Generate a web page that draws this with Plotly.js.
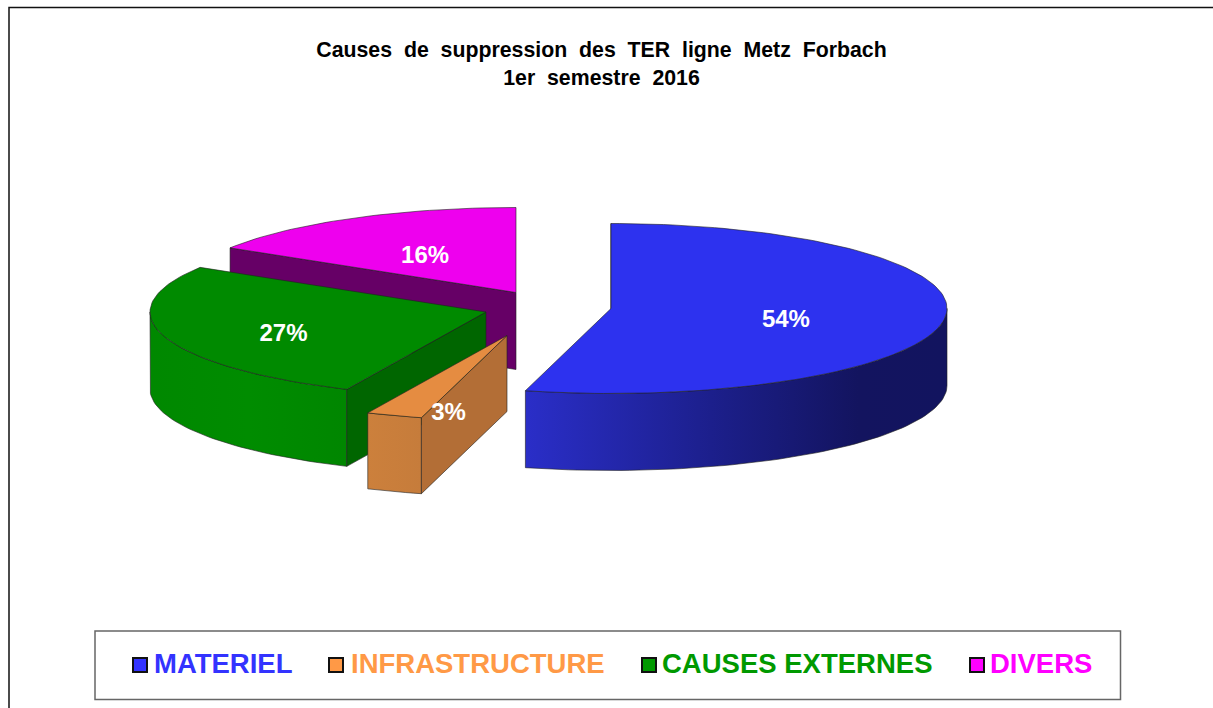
<!DOCTYPE html>
<html>
<head>
<meta charset="utf-8">
<script src="https://cdn.plot.ly/plotly-3.0.1.min.js"></script>
<style>html,body{margin:0;padding:0;background:#fff;overflow:hidden}#chart{width:1213px;height:708px}</style>
</head>
<body>
<div id="chart"></div>
<script>
// Data
var categories = ['MATERIEL', 'INFRASTRUCTURE', 'CAUSES EXTERNES', 'DIVERS'];
var shares = [54.1, 2.7, 27.0, 16.2];
var titleLines = ['Causes\u00a0 de\u00a0 suppression\u00a0 des\u00a0 TER\u00a0 ligne\u00a0 Metz\u00a0 Forbach', '1er\u00a0 semestre\u00a0 2016'];

// Styles
var legendColors = ['#3333ff', '#ff9946', '#009900', '#ff00ff'];
var topColors = ['#2d32ef', '#e58c41', '#008a00', '#ee00ee'];
var sideColors = ['#23269f', '#b36e36', '#006600', '#660066'];
var wallScales = [
  [[0, '#2a2ec8'], [0.44, '#1c1f8c'], [0.79, '#13145f'], [1, '#12145f']],
  [[0, '#cc803c'], [1, '#c67c3b']],
  [[0, '#008800'], [0.5, '#008c00'], [1, '#008600']],
  null
];

// Layout of the exploded 3D pie, in page pixels
var centersX = [611, 507, 486, 516];
var centersY = [308.5, 335.5, 312, 292.5];
var depths = [77, 76, 77, 77];
var rx = 336, ry = 85;
var labelRadius = [0.525, 0.518, 0.63, 0.555];
var labelShift = [7, 37, 7, 6];
var swatchX = [140, 336, 649, 977];
var legendTextX = [154, 351, 662, 990];
var legendY = 665;
var legendTextY = 666;

function rim(i, a, drop) {
  var t = a * Math.PI / 180;
  return [centersX[i] + rx * Math.sin(t), centersY[i] - ry * Math.cos(t) + (drop || 0)];
}
function arc(i, a0, a1, drop) {
  var pts = [], n = Math.max(2, Math.ceil(Math.abs(a1 - a0) / 1.5));
  for (var k = 0; k <= n; k++) pts.push(rim(i, a0 + (a1 - a0) * k / n, drop));
  return pts;
}
function poly(pts, fill, scale, lineW) {
  var tr = {
    type: 'scatter', mode: 'lines', hoverinfo: 'skip',
    x: pts.map(function (p) { return p[0]; }).concat([pts[0][0]]),
    y: pts.map(function (p) { return p[1]; }).concat([pts[0][1]]),
    fill: 'toself', fillcolor: fill,
    line: { color: '#202020', width: lineW === undefined ? 0.6 : lineW }
  };
  if (scale) tr.fillgradient = { type: 'horizontal', colorscale: scale };
  return tr;
}

var angles = [], acc = 0;
shares.forEach(function (s) { angles.push([acc * 3.6, (acc + s) * 3.6]); acc += s; });

function sliceTraces(i) {
  var a0 = angles[i][0], a1 = angles[i][1], out = [], depth = depths[i];
  var apex = [centersX[i], centersY[i]], apexLow = [centersX[i], centersY[i] + depth];
  var w0 = Math.max(a0, 90), w1 = Math.min(a1, 270);
  if (i === 3) {
    out.push(poly([apex, rim(i, a0), rim(i, a0, depth), apexLow], sideColors[i]));
  }
  if (w1 > w0) {
    out.push(poly(arc(i, w0, w1).concat(arc(i, w1, w0, depth)), wallScales[i][0][1], wallScales[i]));
  }
  if (i === 0 || i === 1 || i === 2) {
    out.push(poly([apex, rim(i, a0), rim(i, a0, depth), apexLow], sideColors[i]));
  }
  out.push(poly([apex].concat(arc(i, a0, a1)), topColors[i]));
  return out;
}

var traces = [];
[3, 2, 1, 0].forEach(function (i) { traces = traces.concat(sliceTraces(i)); });

// Percent labels
traces.push({
  type: 'scatter', mode: 'text', hoverinfo: 'skip',
  x: shares.map(function (s, i) { var m = (angles[i][0] + angles[i][1]) / 2; return centersX[i] + rx * labelRadius[i] * Math.sin(m * Math.PI / 180); }),
  y: shares.map(function (s, i) { var m = (angles[i][0] + angles[i][1]) / 2; return centersY[i] - ry * labelRadius[i] * Math.cos(m * Math.PI / 180) + labelShift[i]; }),
  text: shares.map(function (s) { return Math.round(s) + '%'; }),
  textposition: 'middle center',
  textfont: { family: 'Liberation Sans, Arial, sans-serif', size: 24, color: '#ffffff', weight: 'bold' }
});

// Legend entries
categories.forEach(function (c, i) {
  traces.push({
    type: 'scatter', mode: 'markers', hoverinfo: 'skip',
    x: [swatchX[i]], y: [legendY],
    marker: { symbol: 'square', size: 14, color: legendColors[i], line: { color: '#111111', width: 2 } }
  });
  traces.push({
    type: 'scatter', mode: 'text', hoverinfo: 'skip',
    x: [legendTextX[i]], y: [legendTextY], text: [c], textposition: 'middle right',
    textfont: { family: 'Liberation Sans, Arial, sans-serif', size: 27.5, color: legendColors[i], weight: 'bold' }
  });
});

var layout = {
  width: 1213, height: 708,
  margin: { l: 0, r: 0, t: 0, b: 0 },
  paper_bgcolor: '#ffffff', plot_bgcolor: '#ffffff',
  showlegend: false,
  xaxis: { range: [0, 1213], visible: false, fixedrange: true },
  yaxis: { range: [708, 0], visible: false, fixedrange: true },
  title: {
    text: titleLines.join('<br>'),
    x: 601.5 / 1213, xanchor: 'center', xref: 'paper',
    y: 1 - 57 / 708, yanchor: 'top', yref: 'container',
    font: { family: 'Liberation Sans, Arial, sans-serif', size: 21.3, color: '#000000', weight: 'bold' }
  },
  shapes: [
    { type: 'path', xref: 'x', yref: 'y', path: 'M 9 708 L 9 7.5 L 1213 7.5', line: { color: '#111111', width: 1.5 } },
    { type: 'rect', xref: 'x', yref: 'y', x0: 95, x1: 1120.5, y0: 631, y1: 699.5, line: { color: '#666666', width: 1.5 }, fillcolor: 'rgba(0,0,0,0)' }
  ]
};

Plotly.newPlot('chart', traces, layout, { staticPlot: true, displayModeBar: false });
</script>
</body>
</html>
